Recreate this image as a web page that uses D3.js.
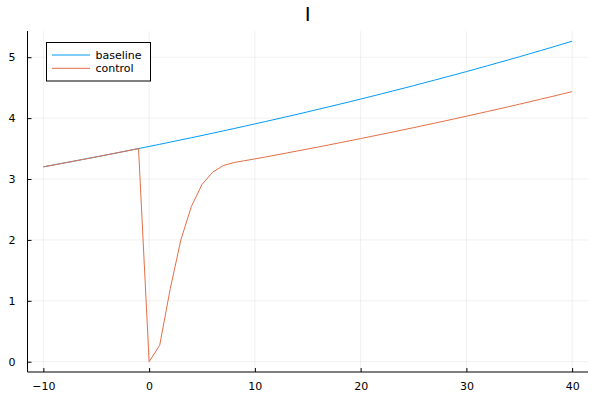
<!DOCTYPE html>
<html>
<head>
<meta charset="utf-8">
<script src="https://cdn.jsdelivr.net/npm/d3@7"></script>
<style>
  html, body { margin: 0; padding: 0; background: #fff; }
  svg { display: block; font-family: "DejaVu Sans", sans-serif; }
</style>
</head>
<body>
<svg id="chart" width="600" height="400"></svg>
<script>
const title = "I";
const xValues = [-10,-9,-8,-7,-6,-5,-4,-3,-2,-1,0,1,2,3,4,5,6,7,8,9,10,11,12,13,14,15,16,17,18,19,20,21,22,23,24,25,26,27,28,29,30,31,32,33,34,35,36,37,38,39,40];
const baseline = [3.200,3.232,3.264,3.297,3.330,3.363,3.397,3.431,3.465,3.500,3.535,3.570,3.606,3.642,3.678,3.715,3.752,3.790,3.828,3.866,3.905,3.944,3.983,4.023,4.063,4.104,4.145,4.186,4.228,4.270,4.313,4.356,4.400,4.444,4.488,4.533,4.579,4.624,4.671,4.717,4.764,4.812,4.860,4.909,4.958,5.007,5.058,5.108,5.159,5.211,5.263];
const control = [3.200,3.232,3.264,3.297,3.330,3.363,3.397,3.431,3.465,3.500,0.000,0.270,1.200,2.000,2.550,2.910,3.110,3.220,3.270,3.300,3.330,3.362,3.394,3.427,3.460,3.493,3.526,3.560,3.595,3.629,3.664,3.699,3.735,3.770,3.807,3.843,3.880,3.917,3.955,3.993,4.031,4.070,4.109,4.148,4.188,4.228,4.269,4.310,4.351,4.393,4.435];
const seriesNames = ["baseline", "control"];
const seriesColors = ["#009AF9", "#E36F47"];
const xTicks = [-10, 0, 10, 20, 30, 40];
const yTicks = [0, 1, 2, 3, 4, 5];

const svg = d3.select("#chart");
const pLeft = 27.5, pRight = 588, pTop = 31, pBottom = 372;

const x = d3.scaleLinear().domain([-11.5, 41.5]).range([pLeft, pRight]);
const y = d3.scaleLinear().domain([-0.169, 5.4306]).range([pBottom, pTop]);

const fmt = d => (d < 0 ? "\u2212" + Math.abs(d) : String(d));

// grid
const grid = svg.append("g");
grid.selectAll("line.gx").data(xTicks).enter().append("line")
  .attr("x1", d => x(d)).attr("x2", d => x(d))
  .attr("y1", pTop).attr("y2", pBottom)
  .attr("stroke", "#000").attr("stroke-opacity", 0.1).attr("stroke-width", 0.6);
grid.selectAll("line.gy").data(yTicks).enter().append("line")
  .attr("y1", d => y(d)).attr("y2", d => y(d))
  .attr("x1", pLeft).attr("x2", pRight)
  .attr("stroke", "#000").attr("stroke-opacity", 0.1).attr("stroke-width", 0.6);

// axes
const xAxis = d3.axisBottom(x).tickValues(xTicks).tickFormat(fmt).tickSizeInner(-4).tickSizeOuter(0).tickPadding(10);
const yAxis = d3.axisLeft(y).tickValues(yTicks).tickFormat(fmt).tickSizeInner(-4).tickSizeOuter(0).tickPadding(12);

const gx = svg.append("g").attr("transform", `translate(0,${pBottom})`).call(xAxis);
const gy = svg.append("g").attr("transform", `translate(${pLeft},0)`).call(yAxis);
gx.select(".domain").attr("d", `M${pLeft},0H${pRight}`);
gy.select(".domain").attr("d", `M0,${pBottom}V${pTop}`);
[gx, gy].forEach(g => {
  g.select(".domain").attr("stroke", "#000").attr("stroke-width", 1);
  g.selectAll(".tick line").attr("stroke", "#000").attr("stroke-width", 1);
  g.selectAll(".tick text").attr("fill", "#000").attr("font-size", 11).attr("font-family", "DejaVu Sans, sans-serif");
});

// lines
const data = [baseline, control];
const line = d3.line().x((d, i) => x(xValues[i])).y(d => y(d));
svg.append("g").selectAll("path").data(data).enter().append("path")
  .attr("d", d => line(d))
  .attr("fill", "none")
  .attr("stroke", (d, i) => seriesColors[i])
  .attr("stroke-width", 1);

// title
svg.append("text").attr("x", (pLeft + pRight) / 2).attr("y", 21)
  .attr("text-anchor", "middle").attr("font-size", 20).attr("fill", "#000").text(title);

// legend
const lg = svg.append("g");
lg.append("rect").attr("x", 46.5).attr("y", 42.5).attr("width", 104).attr("height", 38.5)
  .attr("fill", "#fff").attr("stroke", "#000").attr("stroke-width", 1);
seriesNames.forEach((name, i) => {
  const yy = 55 + i * 13.3;
  lg.append("line").attr("x1", 52).attr("x2", 90).attr("y1", yy).attr("y2", yy)
    .attr("stroke", seriesColors[i]).attr("stroke-width", 1);
  lg.append("text").attr("x", 95.5).attr("y", yy + 4).attr("font-size", 11)
    .attr("fill", "#000").text(name);
});
</script>
</body>
</html>
